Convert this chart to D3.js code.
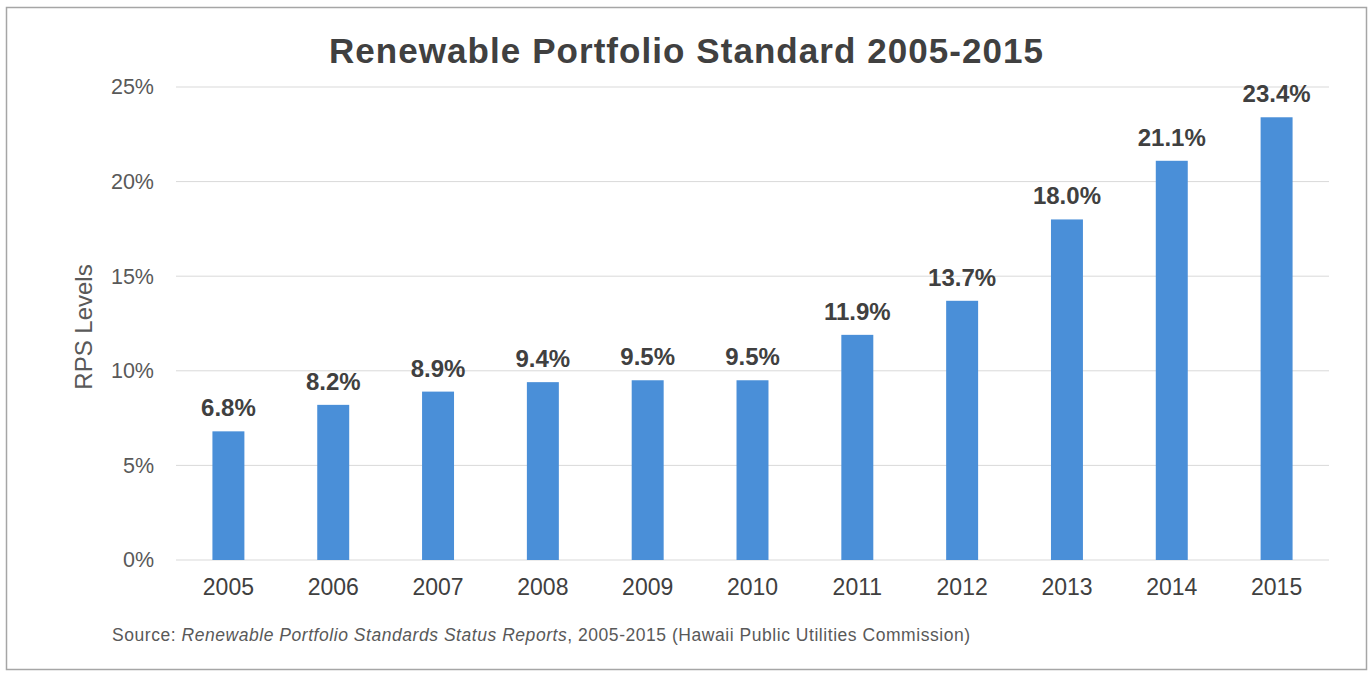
<!DOCTYPE html>
<html><head><meta charset="utf-8">
<script src="https://cdn.jsdelivr.net/npm/d3@7"></script>
<style>body{margin:0;background:#fff;}svg{display:block;font-family:"Liberation Sans",Arial,sans-serif;}</style>
</head><body>
<svg id="chart" width="1369" height="676"></svg>
<script>
const years = ["2005","2006","2007","2008","2009","2010","2011","2012","2013","2014","2015"];
const rpsValues = [6.8, 8.2, 8.9, 9.4, 9.5, 9.5, 11.9, 13.7, 18.0, 21.1, 23.4];
const yTicks = [0, 5, 10, 15, 20, 25];
const titleText = "Renewable Portfolio Standard 2005-2015";
const yAxisTitle = "RPS Levels";

const svg = d3.select("#chart");
svg.append("rect").attr("x",6.5).attr("y",7.5).attr("width",1360).attr("height",662)
  .attr("fill","#fff").attr("stroke","#a6a6a6").attr("stroke-width",1.5);

const x = d3.scaleBand().domain(years).range([176, 1329]).paddingInner(0.695).paddingOuter(0.3475);
const y = d3.scaleLinear().domain([0, 25]).range([560, 87]);

// gridlines
svg.append("g").selectAll("line").data(yTicks).join("line")
  .attr("x1",176).attr("x2",1329)
  .attr("y1",d=>y(d)).attr("y2",d=>y(d))
  .attr("stroke","#d9d9d9").attr("stroke-width",1);

// y axis labels
const yAxis = d3.axisLeft(y).tickValues(yTicks).tickFormat(d=>d+"%").tickSize(0).tickPadding(0);
const gy = svg.append("g").attr("transform","translate(154,0)").call(yAxis);
gy.select(".domain").remove();
gy.selectAll("text").attr("font-size",21.5).attr("fill","#595959").attr("font-family","Liberation Sans, Arial, sans-serif");

// x axis
const xAxis = d3.axisBottom(x).tickSize(0).tickPadding(19);
const gx = svg.append("g").attr("transform","translate(0,560)").call(xAxis);
gx.select(".domain").remove();
gx.selectAll("text").attr("font-size",23).attr("fill","#404040").attr("font-family","Liberation Sans, Arial, sans-serif");

// bars
svg.append("g").selectAll("rect").data(rpsValues).join("rect")
  .attr("x",(d,i)=>x(years[i])).attr("width",x.bandwidth())
  .attr("y",d=>y(d)).attr("height",d=>y(0)-y(d))
  .attr("fill","#4a8fd8");

// labels
svg.append("g").selectAll("text").data(rpsValues).join("text")
  .attr("x",(d,i)=>x(years[i])+x.bandwidth()/2)
  .attr("y",d=>y(d)-15)
  .attr("text-anchor","middle").attr("font-size",24).attr("font-weight","bold")
  .attr("fill","#404040").text(d=>d.toFixed(1)+"%");

// title
svg.append("text").attr("x",329).attr("y",63)
  .attr("textLength",714).attr("lengthAdjust","spacing")
  .attr("font-size",35).attr("font-weight","bold").attr("fill","#404040").text(titleText);

// y title
svg.append("text").attr("transform","translate(92,327) rotate(-90)").attr("text-anchor","middle")
  .attr("font-size",24).attr("fill","#595959").text(yAxisTitle);

// source
const src = svg.append("text").attr("x",112).attr("y",641).attr("font-size",17.5).attr("fill","#595959")
  .attr("textLength",858).attr("lengthAdjust","spacing");
src.append("tspan").text("Source: ");
src.append("tspan").attr("font-style","italic").text("Renewable Portfolio Standards Status Reports");
src.append("tspan").text(", 2005-2015 (Hawaii Public Utilities Commission)");
</script>
</body></html>
